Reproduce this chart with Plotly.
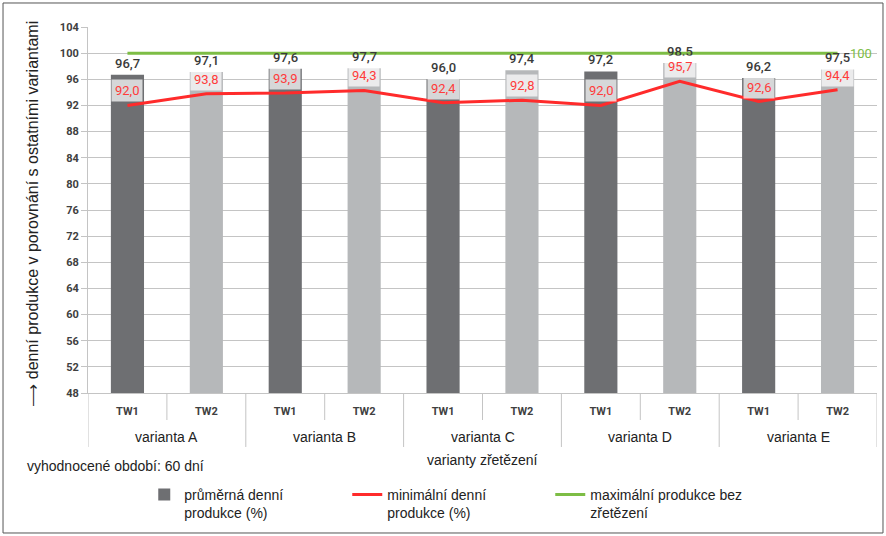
import plotly.graph_objects as go

# ---- data ----
variants = ["varianta A", "varianta B", "varianta C", "varianta D", "varianta E"]
tw_labels = ["TW1", "TW2"] * 5
avg_values = [96.7, 97.1, 97.6, 97.7, 96.0, 97.4, 97.2, 98.5, 96.2, 97.5]
avg_label_text = ["96,7", "97,1", "97,6", "97,7", "96,0", "97,4", "97,2", "98.5", "96,2", "97,5"]
min_values = [92.0, 93.8, 93.9, 94.3, 92.4, 92.8, 92.0, 95.7, 92.6, 94.4]
max_values = [100] * 10
y_ticks = [48, 52, 56, 60, 64, 68, 72, 76, 80, 84, 88, 92, 96, 100, 104]

# ---- styles ----
DARK = "#6e6f72"
LIGHT = "#b6b8ba"
RED = "#ff2b2b"
GREEN = "#7dbd45"
GRID = "#c4c4c4"
FONT = "Liberation Sans"
NUMFONT = "Roboto"

x_pos = list(range(len(avg_values)))
bar_colors = [DARK if t == "TW1" else LIGHT for t in tw_labels]

fig = go.Figure()
fig.add_trace(go.Bar(
    x=x_pos, y=avg_values, width=0.42, marker=dict(color=bar_colors, line_width=0),
    name="průměrná denní<br>produkce (%)",
))
fig.add_trace(go.Scatter(
    x=x_pos, y=min_values, mode="lines", line=dict(color=RED, width=3),
    name="minimální denní<br>produkce (%)",
))
fig.add_trace(go.Scatter(
    x=x_pos, y=max_values, mode="lines", line=dict(color=GREEN, width=3),
    name="maximální produkce bez<br>zřetězení",
))

ann = []
# bar value labels
for xi, v, t in zip(x_pos, avg_values, avg_label_text):
    ann.append(dict(x=xi, y=v, xref="x", yref="y", text=t, showarrow=False,
                    yanchor="bottom", yshift=2,
                    font=dict(family=NUMFONT, size=13, color="#3a3a3a", weight=500)))
# min value labels
for xi, v in zip(x_pos, min_values):
    ann.append(dict(x=xi, y=v, xref="x", yref="y", text=f"{v:.1f}".replace(".", ","),
                    showarrow=False, yanchor="bottom", yshift=3,
                    bgcolor="rgba(255,255,255,0.72)", borderpad=3,
                    font=dict(family=NUMFONT, size=13, color="#ff3b3b")))
# max label at the end
ann.append(dict(x=x_pos[-1], y=max_values[-1], xref="x", yref="y", text=str(max_values[-1]),
                showarrow=False, xanchor="left", xshift=10,
                font=dict(family=NUMFONT, size=13, color=GREEN)))

# variant group labels
for i, name in enumerate(variants):
    ann.append(dict(x=2 * i + 0.5, y=-0.120, xref="x", yref="paper", text=name,
                    showarrow=False, yanchor="middle",
                    font=dict(family=FONT, size=14, color="#222222")))
ann.append(dict(x=0.5, y=-0.183, xref="paper", yref="paper", text="varianty zřetězení",
                showarrow=False, yanchor="middle",
                font=dict(family=FONT, size=14, color="#222222")))
ann.append(dict(x=-0.0798, y=-0.1995, xref="paper", yref="paper",
                text="vyhodnocené období: 60 dní", showarrow=False,
                xanchor="left", yanchor="middle",
                font=dict(family=FONT, size=14, color="#222222")))
ann.append(dict(x=-0.0697, y=0.490, xref="paper", yref="paper", textangle=-90,
                text="⟶ denní produkce v porovnání s ostatními variantami",
                showarrow=False, xanchor="center", yanchor="middle",
                font=dict(family=FONT, size=16, color="#222222")))

shapes = []
n = len(x_pos)
# group dividers (long) and inner dividers (short) of the category table
for b in range(0, n + 1, 2):
    shapes.append(dict(type="line", xref="x", yref="paper", x0=b - 0.5, x1=b - 0.5,
                       y0=0, y1=-0.1475, line=dict(color=GRID, width=1)))
for b in range(1, n, 2):
    shapes.append(dict(type="line", xref="x", yref="paper", x0=b - 0.5, x1=b - 0.5,
                       y0=0, y1=-0.0738, line=dict(color=GRID, width=1)))
# outer frame
shapes.append(dict(type="rect", xref="paper", yref="paper", x0=-0.1077, x1=1.0076,
                   y0=-0.3825, y1=1.0656, line=dict(color="#555555", width=1)))

fig.update_layout(
    width=886, height=536, autosize=False,
    margin=dict(l=88, r=9, t=27, b=143, autoexpand=False),
    paper_bgcolor="white", plot_bgcolor="white",
    font=dict(family=FONT, size=14, color="#222222"),
    showlegend=True,
    legend=dict(orientation="h", x=0.0713, y=-0.235, xanchor="left", yanchor="top",
                entrywidth=158, entrywidthmode="pixels", valign="top",
                traceorder="normal", itemwidth=30,
                font=dict(family=FONT, size=14, color="#222222")),
    annotations=ann, shapes=shapes,
)
fig.update_xaxes(range=[-0.5, n - 0.5], tickvals=x_pos, ticktext=tw_labels,
                 showgrid=False, zeroline=False, showline=True, linecolor=GRID, linewidth=1,
                 ticks="", tickfont=dict(family=NUMFONT, size=11, color="#404040", weight="bold"),
                 ticklabelstandoff=8)
fig.update_yaxes(range=[48, 104], tickvals=y_ticks, showgrid=True, gridcolor=GRID, gridwidth=1,
                 zeroline=False, showline=True, linecolor=GRID, linewidth=1,
                 ticks="outside", ticklen=6, tickcolor=GRID,
                 tickfont=dict(family=NUMFONT, size=11, color="#404040", weight="bold"))

fig.write_html("out.html")
